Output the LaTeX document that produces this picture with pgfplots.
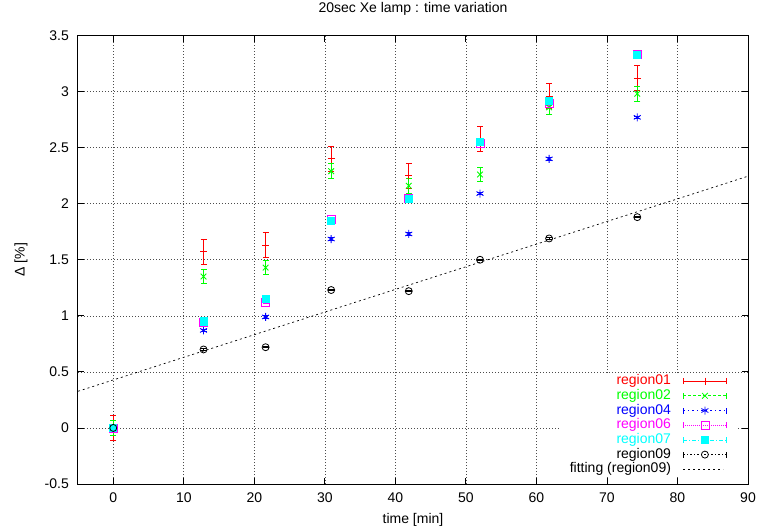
\documentclass[border=0pt]{standalone}
\usepackage{pgfplots}
\pgfplotsset{compat=1.18}
\usepackage{fontspec}
\setmainfont{Liberation Sans}
\newcommand{\ff}{\fontsize{14}{16}\selectfont}
\definecolor{gred}{RGB}{255,0,0}
\definecolor{ggreen}{RGB}{0,255,0}
\definecolor{gblue}{RGB}{0,0,255}
\definecolor{gmag}{RGB}{255,0,255}
\definecolor{gcyan}{RGB}{0,255,255}

\pgfplotsset{
 errleg/.style n args={4}{legend image code/.code={
   \draw[draw=#1,#2,line width=0.8pt] (0pt,0pt) -- (43pt,0pt);
   \draw[draw=#1,solid,line width=0.8pt] (0pt,-3pt) -- (0pt,3pt) (43pt,-3pt) -- (43pt,3pt);
   \begin{scope}[shift={(21.5pt,0pt)}, solid, line width=0.8pt, mark size=#4]
     \pgfsetstrokecolor{#1}\pgfsetfillcolor{#1}
     \pgfuseplotmark{#3}
   \end{scope}
 }},
 ebar/.style={error bars/.cd, y dir=both, y explicit,
   error bar style={draw=#1, color=#1, solid, line width=0.9pt},
   error mark options={rotate=90, draw=#1, color=#1, mark size=3pt, line width=0.9pt}},
}
\begin{document}
\begin{tikzpicture}
\begin{axis}[
 scale only axis, width=670pt, height=448.5pt,
 xmin=-5, xmax=90, ymin=-0.5, ymax=3.5,
 xtick={0,10,20,30,40,50,60,70,80,90},
 ytick={-0.5,0,0.5,1,1.5,2,2.5,3,3.5},
 grid=major,
 grid style={black!70, dash pattern=on 1pt off 2pt, line width=0.6pt},
 axis line style={line width=1pt},
 every tick/.style={black, line width=0.8pt},
 major tick length=6pt,
 /pgf/number format/assume math mode=true,
 ticklabel style={font=\ff},
 xticklabel style={anchor=north, inner sep=0pt, yshift=-9pt},
 yticklabel style={anchor=east, inner sep=0pt, xshift=-9pt},
 title={20sec Xe lamp : time variation},
 title style={font=\ff, at={(axis description cs:0.5,1.039)}, anchor=base},
 xlabel={time [min]},
 xlabel style={font=\ff, at={(axis description cs:0.5,-0.087)}, anchor=base},
 ylabel={Δ [\%]},
 ylabel style={font=\ff, at={(axis description cs:-0.085,0.5)}, anchor=center},
 legend cell align=right, legend plot pos=right,
 legend style={
  at={(axis description cs:1,0)}, anchor=south east,
  xshift=-10pt, yshift=7pt,
  draw=none, fill=white,
  inner xsep=11pt, inner ysep=1pt,
  font=\ff,
  row sep=1.7pt, column sep=12pt,
  nodes={inner sep=0pt, text height=10pt, text depth=3pt},
  column 1/.style={nodes={text width=148pt, align=right}},
 },
]
\addplot[gred, only marks, mark=+, mark size=3.5pt, mark options={solid, line width=0.9pt},
 errleg={gred}{solid}{+}{3.5pt}, ebar=gred]
 table[x=x, y=y, y error=e] {
x y e
0 0 0.11
12.8 1.57 0.11
21.6 1.63 0.11
30.9 2.40 0.11
41.9 2.25 0.11
52.0 2.58 0.11
61.8 2.96 0.11
74.3 3.12 0.11
};
\addlegendentry{\textcolor{gred}{region01}}

\addplot[ggreen, only marks, mark=x, mark size=4pt, mark options={solid, line width=0.9pt},
 errleg={ggreen}{dash pattern=on 3pt off 2pt}{x}{4pt}, ebar=ggreen]
 table[x=x, y=y, y error=e] {
x y e
0 0 0.065
12.8 1.35 0.065
21.6 1.43 0.065
30.9 2.29 0.065
41.9 2.16 0.065
52.0 2.26 0.065
61.8 2.86 0.065
74.3 2.98 0.065
};
\addlegendentry{\textcolor{ggreen}{region02}}

\addplot[gblue, only marks, mark=asterisk, mark size=4pt, mark options={solid, line width=0.9pt},
 errleg={gblue}{dash pattern=on 1.5pt off 3pt}{asterisk}{4pt}, ebar=gblue]
 table[x=x, y=y, y error=e] {
x y e
0 0 0.01
12.8 0.87 0.01
21.6 0.99 0.01
30.9 1.685 0.01
41.9 1.73 0.01
52.0 2.09 0.01
61.8 2.40 0.01
74.3 2.77 0.01
};
\addlegendentry{\textcolor{gblue}{region04}}

\addplot[gmag, only marks, mark=square, mark size=4pt, mark options={solid, line width=0.8pt},
 errleg={gmag}{dash pattern=on 1pt off 1pt}{square}{4pt}, ebar=gmag]
 table[x=x, y=y, y error=e] {
x y e
0 0 0.01
12.8 0.94 0.01
21.6 1.12 0.01
30.9 1.86 0.01
41.9 2.05 0.01
52.0 2.54 0.01
61.8 2.89 0.01
74.3 3.33 0.01
};
\addlegendentry{\textcolor{gmag}{region06}}

\addplot[gcyan, only marks, mark=square*, mark size=3.6pt, mark options={solid, line width=0.8pt},
 errleg={gcyan}{dash pattern=on 4pt off 2pt on 1pt off 2pt}{square*}{3.6pt}, ebar=gcyan]
 table[x=x, y=y, y error=e] {
x y e
0 0 0.01
12.8 0.95 0.01
21.6 1.15 0.01
30.9 1.85 0.01
41.9 2.04 0.01
52.0 2.55 0.01
61.8 2.92 0.01
74.3 3.33 0.01
};
\addlegendentry{\textcolor{gcyan}{region07}}

\addplot[black, only marks, mark=o, mark size=3.5pt, mark options={solid, line width=0.8pt},
 errleg={black}{dash pattern=on 2pt off 2pt on 1pt off 2pt}{o}{3.5pt}, ebar=black]
 table[x=x, y=y, y error=e] {
x y e
0 0 0.005
12.8 0.70 0.005
21.6 0.72 0.005
30.9 1.23 0.005
41.9 1.22 0.005
52.0 1.50 0.005
61.8 1.69 0.005
74.3 1.88 0.005
};
\addlegendentry{region09}

\addplot[black, dash pattern=on 2pt off 3pt, line width=0.7pt,
 legend image code/.code={\draw[black, dash pattern=on 2pt off 3pt, line width=0.7pt] (0pt,0pt) -- (40pt,0pt);}]
 coordinates {(-5,0.327) (90,2.245)};
\addlegendentry{fitting (region09)}
\end{axis}
\pgfresetboundingbox
\path (-78pt,-47pt) rectangle (679pt,484pt);
\end{tikzpicture}
\end{document}
